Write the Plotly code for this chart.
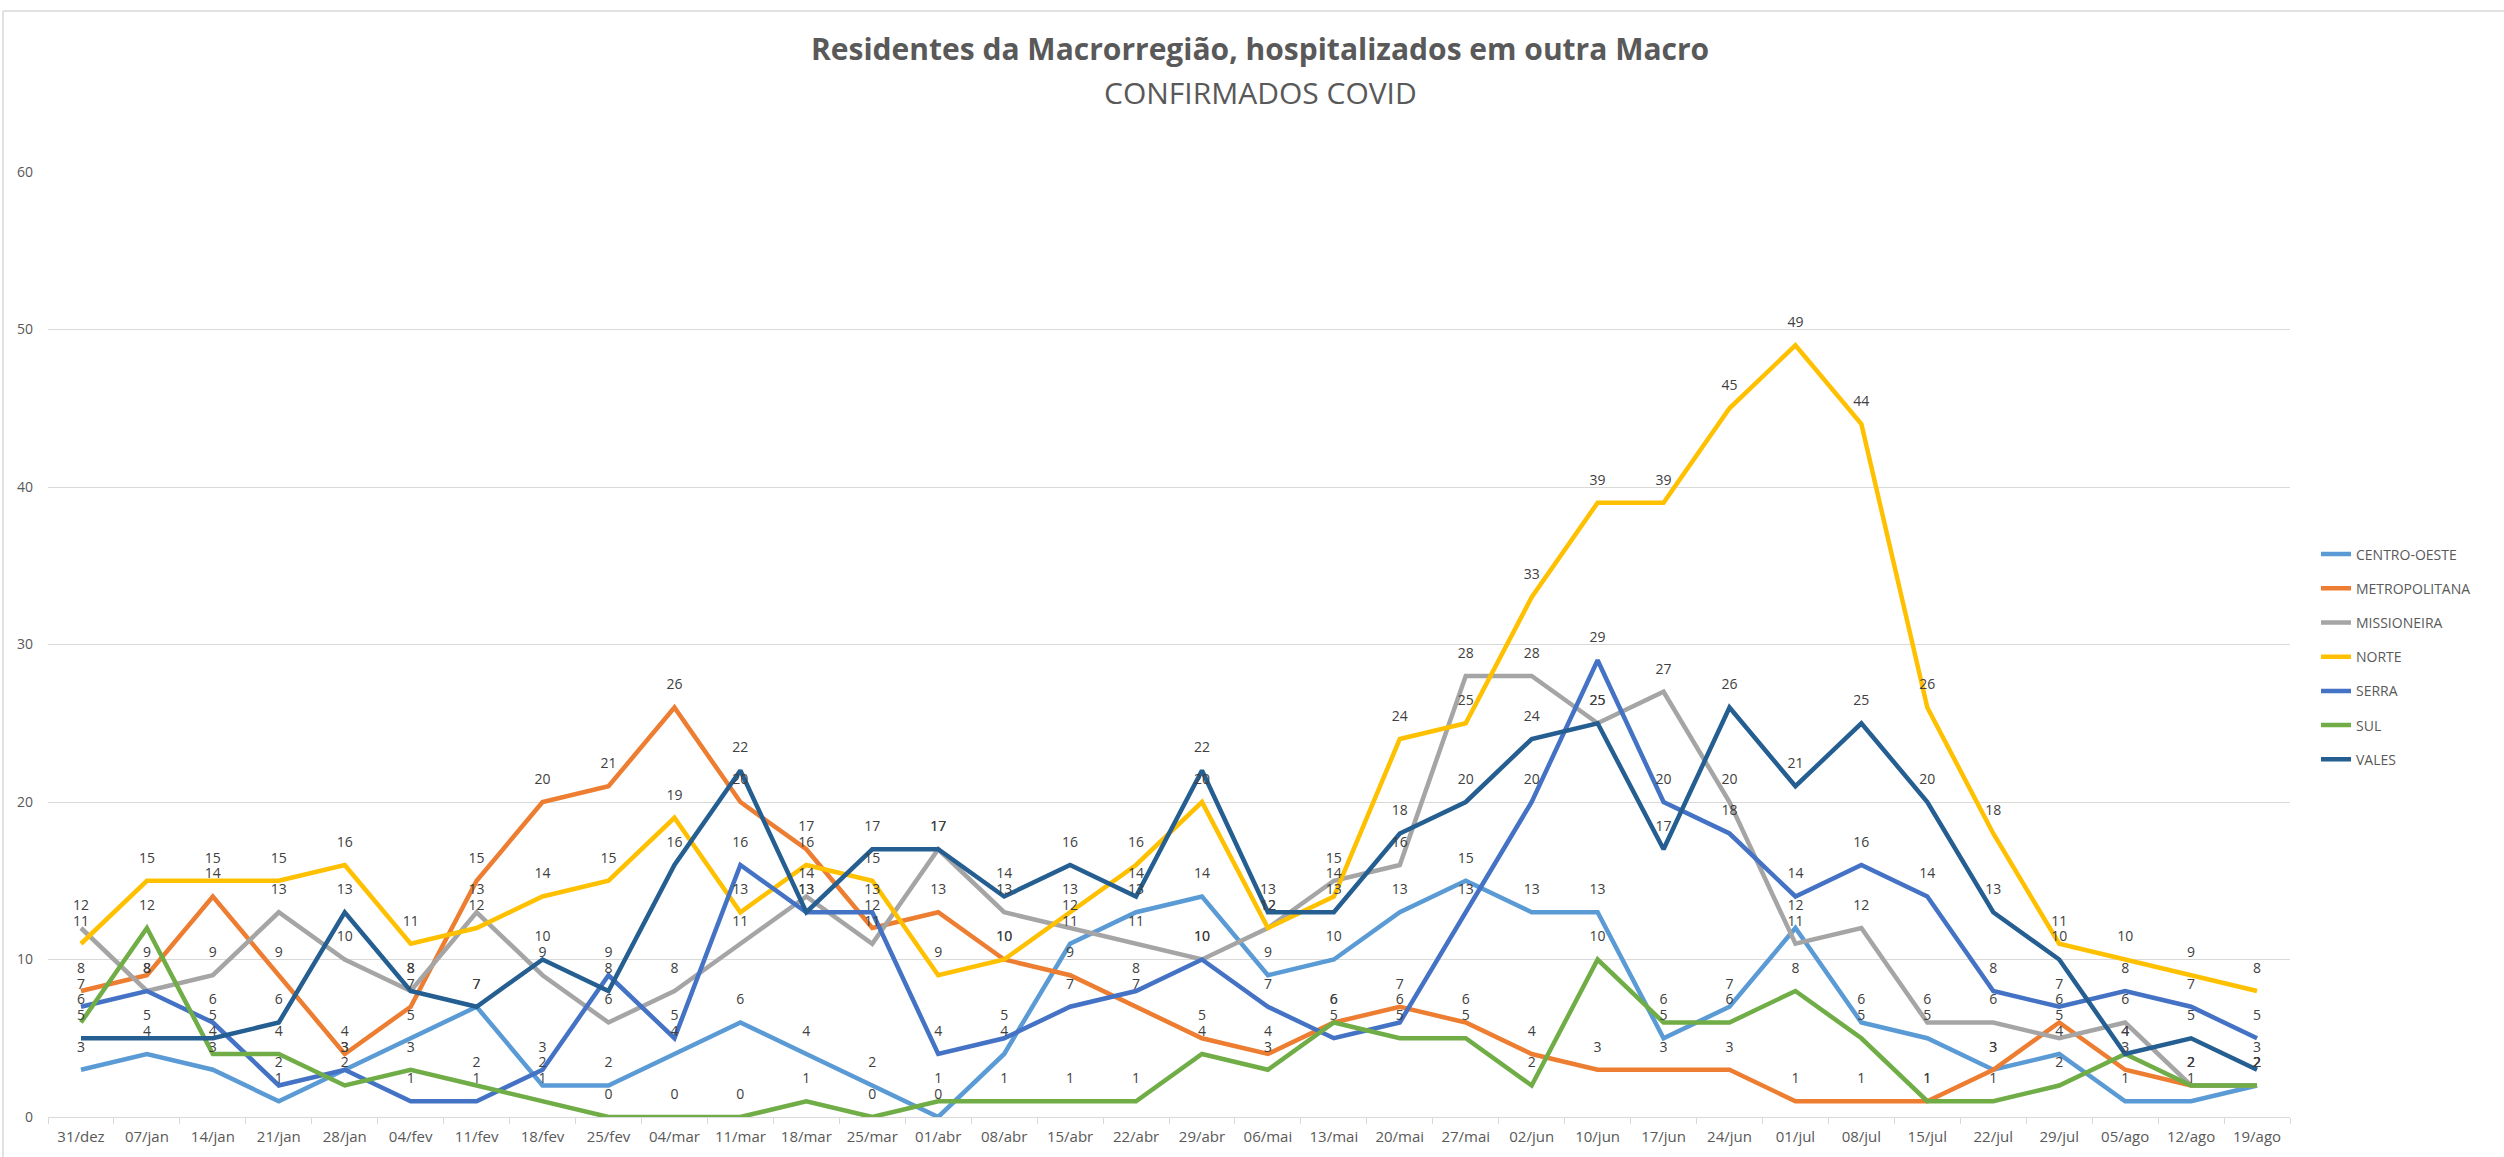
import plotly.graph_objects as go

dates = ["31/dez", "07/jan", "14/jan", "21/jan", "28/jan", "04/fev", "11/fev", "18/fev", "25/fev",
         "04/mar", "11/mar", "18/mar", "25/mar", "01/abr", "08/abr", "15/abr", "22/abr", "29/abr",
         "06/mai", "13/mai", "20/mai", "27/mai", "02/jun", "10/jun", "17/jun", "24/jun", "01/jul",
         "08/jul", "15/jul", "22/jul", "29/jul", "05/ago", "12/ago", "19/ago"]

centro_oeste = [3, 4, 3, 1, 3, 5, 7, 2, 2, 4, 6, 4, 2, 0, 4, 11, 13, 14, 9, 10, 13, 15, 13, 13,
                5, 7, 12, 6, 5, 3, 4, 1, 1, 2]
metropolitana = [8, 9, 14, 9, 4, 7, 15, 20, 21, 26, 20, 17, 12, 13, 10, 9, 7, 5, 4, 6, 7, 6, 4, 3,
                 3, 3, 1, 1, 1, 3, 6, 3, 2, 2]
missioneira = [12, 8, 9, 13, 10, 8, 13, 9, 6, 8, 11, 14, 11, 17, 13, 12, 11, 10, 12, 15, 16, 28, 28, 25,
               27, 20, 11, 12, 6, 6, 5, 6, 2, 2]
norte = [11, 15, 15, 15, 16, 11, 12, 14, 15, 19, 13, 16, 15, 9, 10, 13, 16, 20, 12, 14, 24, 25, 33, 39,
         39, 45, 49, 44, 26, 18, 11, 10, 9, 8]
serra = [7, 8, 6, 2, 3, 1, 1, 3, 9, 5, 16, 13, 13, 4, 5, 7, 8, 10, 7, 5, 6, 13, 20, 29,
         20, 18, 14, 16, 14, 8, 7, 8, 7, 5]
sul = [6, 12, 4, 4, 2, 3, 2, 1, 0, 0, 0, 1, 0, 1, 1, 1, 1, 4, 3, 6, 5, 5, 2, 10,
       6, 6, 8, 5, 1, 1, 2, 4, 2, 2]
vales = [5, 5, 5, 6, 13, 8, 7, 10, 8, 16, 22, 13, 17, 17, 14, 16, 14, 22, 13, 13, 18, 20, 24, 25,
         17, 26, 21, 25, 20, 13, 10, 4, 5, 3]

series_names = ["CENTRO-OESTE", "METROPOLITANA", "MISSIONEIRA", "NORTE", "SERRA", "SUL", "VALES"]
series_values = [centro_oeste, metropolitana, missioneira, norte, serra, sul, vales]
series_colors = ["#5B9BD5", "#ED7D31", "#A5A5A5", "#FFC000", "#4472C4", "#70AD47", "#255E91"]

FONT = "Open Sans"

fig = go.Figure()
for name, vals, color in zip(series_names, series_values, series_colors):
    fig.add_trace(go.Scatter(
        x=dates, y=vals, name=name, mode="lines",
        line=dict(color=color, width=4.5),
        legendgroup=name, hoverinfo="skip"))

for name, vals, color in zip(series_names, series_values, series_colors):
    fig.add_trace(go.Scatter(
        x=dates, y=vals, mode="markers+text", showlegend=False,
        marker=dict(size=22, opacity=0, color=color),
        text=[str(v) for v in vals], textposition="top center",
        textfont=dict(family=FONT, size=14, color="#404040"),
        hoverinfo="skip"))

L, R, T, B = 48, 214, 172, 40
W, H = 2504, 1157
pw, ph = W - L - R, H - T - B

def px(x):
    return (x - L) / pw

def py(y):
    return (H - B - y) / ph

fig.update_layout(
    width=W, height=H,
    margin=dict(l=L, r=R, t=T, b=B),
    paper_bgcolor="white", plot_bgcolor="white",
    font=dict(family=FONT, color="#595959"),
    showlegend=True,
    legend=dict(x=px(2316), xanchor="left", y=py(657), yanchor="middle",
                font=dict(family=FONT, size=14, color="#595959"),
                tracegroupgap=13, traceorder="grouped",
                bgcolor="rgba(0,0,0,0)"),
    xaxis=dict(type="category", range=[-0.5, len(dates) - 0.5],
               showline=True, linecolor="#D9D9D9", linewidth=1,
               ticks="outside", tickson="boundaries", ticklen=6, tickcolor="#D9D9D9",
               tickfont=dict(family=FONT, size=15, color="#595959"),
               showgrid=False, ticklabelstandoff=6),
    yaxis=dict(range=[0, 60], dtick=10, gridcolor="#D9D9D9", gridwidth=1,
               zeroline=False, showline=False, ticks="",
               tickfont=dict(family=FONT, size=14, color="#595959"),
               ticklabelstandoff=14),
    annotations=[
        dict(text="<b>Residentes da Macrorregião, hospitalizados em outra Macro</b>",
             xref="paper", yref="paper", x=px(1260), y=py(48), xanchor="center", yanchor="middle",
             showarrow=False, font=dict(family=FONT, size=30, color="#595959")),
        dict(text="CONFIRMADOS COVID",
             xref="paper", yref="paper", x=px(1260), y=py(93), xanchor="center", yanchor="middle",
             showarrow=False, font=dict(family=FONT, size=30, color="#595959")),
    ],
    shapes=[
        dict(type="line", xref="paper", yref="paper", x0=px(3), x1=px(3), y0=py(11), y1=py(H),
             line=dict(color="#D9D9D9", width=1.5)),
        dict(type="line", xref="paper", yref="paper", x0=px(3), x1=px(W), y0=py(11), y1=py(11),
             line=dict(color="#D9D9D9", width=1.5)),
    ],
)

fig.write_html("out.html",
               config={"displayModeBar": False},
               post_script="document.body.style.margin='0';document.body.style.overflow='hidden';")
